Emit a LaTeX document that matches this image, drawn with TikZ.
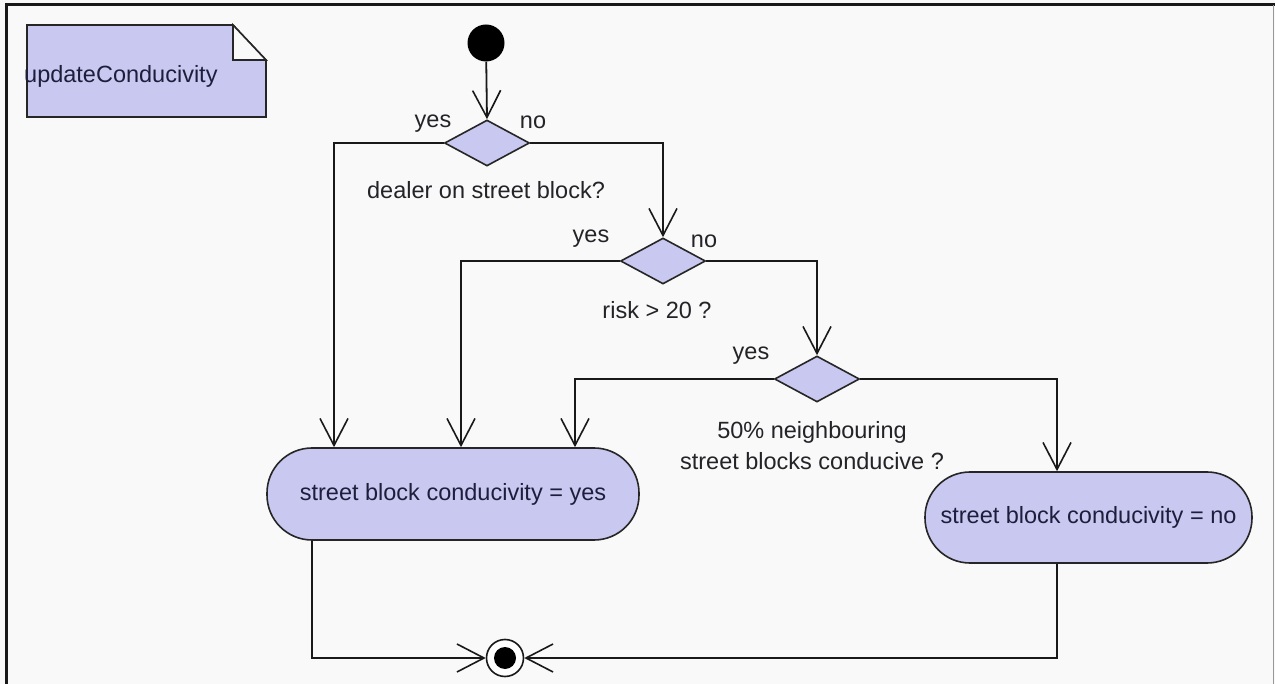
\documentclass[tikz,border=0pt]{standalone}
\usepackage{fontspec}
\setmainfont{Liberation Sans}
\usetikzlibrary{arrows.meta,shapes.geometric}
\definecolor{bgcol}{RGB}{249,249,249}
\definecolor{umlfill}{RGB}{200,200,240}
\definecolor{txtcol}{RGB}{35,35,40}
\definecolor{boxtxt}{RGB}{30,30,60}
\tikzset{
  lbl/.style={font=\fontsize{23.5}{28}\selectfont, text=txtcol, inner sep=0pt},
  decision/.style={diamond, draw=black!85, fill=umlfill, line width=1.6pt,
    minimum width=85pt, minimum height=46pt, inner sep=0pt},
  action/.style={draw=black!85, fill=umlfill, line width=1.6pt,
    rounded corners=45pt, font=\fontsize{23.5}{28}\selectfont, text=boxtxt},
  flow/.style={line width=1.8pt, draw=black!90,
    -{Straight Barb[length=27pt, width=28pt, line width=1.6pt]}},
}
\begin{document}
\begin{tikzpicture}[x=1pt, y=-1pt]
  % canvas and frame
  \fill[bgcol] (0,0) rectangle (1275,684);
  \useasboundingbox (0,0) rectangle (1275,684);
  \draw[line width=3pt, black!90] (6,684) -- (6,5) -- (1275,5);
  \draw[line width=1pt, black!40] (1273.5,5) -- (1273.5,684);

  % note
  \draw[fill=umlfill, line width=1.6pt, draw=black!85]
    (27,25) -- (233,25) -- (266,60) -- (266,117) -- (27,117) -- cycle;
  \draw[fill=bgcol, line width=1.6pt, draw=black!85]
    (233,25) -- (233,60) -- (266,60) -- cycle;
  \node[lbl, anchor=west, text=boxtxt] (notetext) at (24,76) {updateConducivity};

  % nodes
  \node[circle, fill=black, minimum size=37pt, inner sep=0pt] (start) at (486,43) {};
  \node[decision] (d1) at (487,143) {};
  \node[decision] (d2) at (663,261) {};
  \node[decision] (d3) at (817,379) {};
  \node[action, minimum width=372pt, minimum height=92pt] (yes) at (453,494)
    {street block conducivity = yes};
  \node[action, minimum width=327pt, minimum height=91pt] (no) at (1088.5,517.5)
    {street block conducivity = no};
  \node[circle, draw=black!90, fill=white, line width=1.6pt, minimum size=37pt,
    inner sep=0pt] (final) at (505,658) {};
  \node[circle, fill=black, minimum size=22pt, inner sep=0pt] at (final) {};

  % connectors
  \draw[flow] (start) -- (d1.north);
  \draw[flow] (d1.west) -| ([xshift=-119pt]yes.north);
  \draw[flow] (d1.east) -| (d2.north);
  \draw[flow] (d2.west) -| ([xshift=8pt]yes.north);
  \draw[flow] (d2.east) -| (d3.north);
  \draw[flow] (d3.west) -| ([xshift=122pt]yes.north);
  \draw[flow] (d3.east) -| ([xshift=-31.5pt]no.north);
  \draw[flow] ([xshift=-141pt]yes.south) |- (final.west);
  \draw[flow] ([xshift=-31.5pt]no.south) |- (final.east);

  % guard and condition labels
  \node[lbl] (d1yes) at (433,124) {yes};
  \node[lbl] (d1no) at (533,122) {no};
  \node[lbl] (d1cond) at (486,190) {dealer on street block?};
  \node[lbl] (d2yes) at (591,239) {yes};
  \node[lbl] (d2no) at (704,241) {no};
  \node[lbl] (d2cond) at (657,310) {risk > 20 ?};
  \node[lbl] (d3yes) at (751,356) {yes};
  \node[lbl, align=center, font=\fontsize{23.5}{31}\selectfont] (d3cond) at (812,446)
    {50\% neighbouring\\street blocks conducive ?};
\end{tikzpicture}
\end{document}
